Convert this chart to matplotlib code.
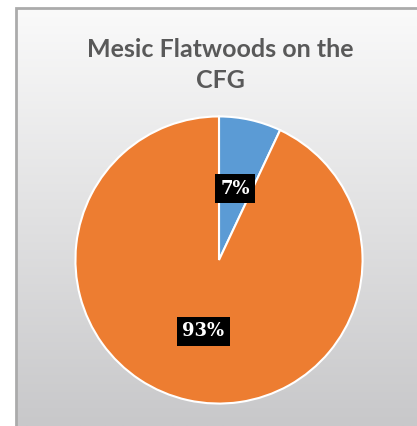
import numpy as np
import matplotlib
matplotlib.use('Agg')
import matplotlib.pyplot as plt
from matplotlib.patches import Rectangle

# Chart data
categories = ['Mesic Flatwoods', 'Other']
shares = [7, 93]
colors = ['#5B9BD5', '#ED7D31']
title = 'Mesic Flatwoods on the\nCFG'

W, H = 417, 426
fig = plt.figure(figsize=(W / 100, H / 100), dpi=100)
fig.patch.set_facecolor('white')

# Framed chart area with vertical gradient (white top -> light gray bottom)
x0, y0 = 16 / W, 1 - 8 / H
bg = fig.add_axes([x0, 0, 1 - x0, y0])
bg.set_axis_off()
grad = np.linspace(0, 1, 256)[:, None]
top = np.array([250, 250, 250]) / 255
bot = np.array([200, 200, 202]) / 255
img = top[None, None, :] * (1 - grad[:, :, None]) + bot[None, None, :] * grad[:, :, None]
bg.imshow(img, aspect='auto', extent=[0, 1, 0, 1])
bg.set_xlim(0, 1)
bg.set_ylim(0, 1)
fig.add_artist(Rectangle((x0, -0.05), 1.1, y0 + 0.05, transform=fig.transFigure,
                         fill=False, edgecolor='#ABABAB', linewidth=2))

fig.text(220 / W, 1 - 65 / H, title, ha='center', va='center', fontsize=18,
         fontweight='bold', color='#595959', family='Lato', linespacing=1.45)

# Pie: centre (219, 260), radius ~145 px
r = 145
ax = fig.add_axes([(219 - r) / W, 1 - (260 + r) / H, 2 * r / W, 2 * r / H])
wedges, texts, autotexts = ax.pie(
    shares, colors=colors, startangle=90, counterclock=False,
    autopct='%1.0f%%', pctdistance=0.51, radius=1,
    wedgeprops=dict(edgecolor='white', linewidth=1.5))
for t in autotexts:
    t.set_color('white')
    t.set_fontsize(13)
    t.set_fontweight('bold')
    t.set_family('DejaVu Serif')
    t.set_bbox(dict(boxstyle='square,pad=0.3', facecolor='black', edgecolor='none'))
ax.set_xlim(-1.01, 1.01)
ax.set_ylim(-1.01, 1.01)
ax.set_aspect('equal')

fig.savefig('out.png', dpi=100)
